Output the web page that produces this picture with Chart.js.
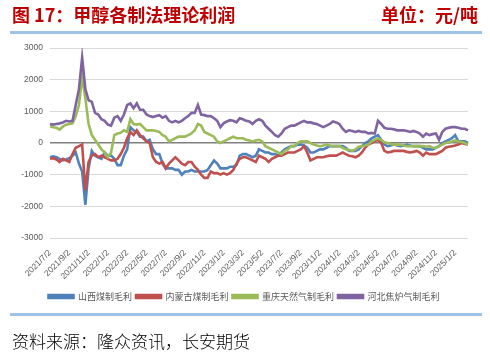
<!DOCTYPE html>
<html>
<head>
<meta charset="utf-8">
<script src="https://cdn.jsdelivr.net/npm/chart.js@4.4.1/dist/chart.umd.min.js"></script>
<style>
  html, body { margin: 0; padding: 0; background: #fff; }
  body { width: 490px; height: 357px; position: relative; overflow: hidden; font-family: "Noto Sans CJK SC", sans-serif; }
  #c { position: absolute; left: 0; top: 0; }
  .title { position: absolute; top: 4px; font-size: 18px; line-height: 20px; font-weight: bold; color: #C00000; white-space: pre; }
  .rule { position: absolute; left: 10px; width: 472px; height: 3px; background: #9DC3E6; }
  .src { position: absolute; left: 12px; top: 331px; font-size: 17px; line-height: 20px; color: #000; font-weight: 300; white-space: pre; }
</style>
</head>
<body>
<canvas id="c" width="490" height="357"></canvas>
<div class="title" style="left:12px;">图 17：甲醇各制法理论利润</div>
<div class="title" style="right:12px;">单位：元/吨</div>
<div class="rule" style="top:31px;"></div>
<div class="rule" style="top:313px;"></div>
<div class="src">资料来源：隆众资讯，长安期货</div>
<script>
const dates = [
  "2021/7/2","2021/7/12","2021/7/22","2021/8/2","2021/8/12","2021/8/22","2021/9/2","2021/9/12","2021/9/22",
  "2021/10/2","2021/10/12","2021/10/22","2021/11/2","2021/11/12","2021/11/22","2021/12/2","2021/12/12","2021/12/22",
  "2022/1/2","2022/1/12","2022/1/22","2022/2/2","2022/2/12","2022/2/22","2022/3/2","2022/3/12","2022/3/22",
  "2022/4/2","2022/4/12","2022/4/22","2022/5/2","2022/5/12","2022/5/22","2022/6/2","2022/6/12","2022/6/22",
  "2022/7/2","2022/7/12","2022/7/22","2022/8/2","2022/8/12","2022/8/22","2022/9/2","2022/9/12","2022/9/22",
  "2022/10/2","2022/10/12","2022/10/22","2022/11/2","2022/11/12","2022/11/22","2022/12/2","2022/12/12","2022/12/22",
  "2023/1/2","2023/1/12","2023/1/22","2023/2/2","2023/2/12","2023/2/22","2023/3/2","2023/3/12","2023/3/22",
  "2023/4/2","2023/4/12","2023/4/22","2023/5/2","2023/5/12","2023/5/22","2023/6/2","2023/6/12","2023/6/22",
  "2023/7/2","2023/7/12","2023/7/22","2023/8/2","2023/8/12","2023/8/22","2023/9/2","2023/9/12","2023/9/22",
  "2023/10/2","2023/10/12","2023/10/22","2023/11/2","2023/11/12","2023/11/22","2023/12/2","2023/12/12","2023/12/22",
  "2024/1/2","2024/1/12","2024/1/22","2024/2/2","2024/2/12","2024/2/22","2024/3/2","2024/3/12","2024/3/22",
  "2024/4/2","2024/4/12","2024/4/22","2024/5/2","2024/5/12","2024/5/22","2024/6/2","2024/6/12","2024/6/22",
  "2024/7/2","2024/7/12","2024/7/22","2024/8/2","2024/8/12","2024/8/22","2024/9/2","2024/9/12","2024/9/22",
  "2024/10/2","2024/10/12","2024/10/22","2024/11/2","2024/11/12","2024/11/22","2024/12/2","2024/12/12","2024/12/22",
  "2025/1/2","2025/1/12","2025/1/22","2025/2/2","2025/2/12"
];

const tickLabels = [
  "2021/7/2","2021/9/2","2021/11/2","2022/1/2","2022/3/2","2022/5/2","2022/7/2","2022/9/2","2022/11/2",
  "2023/1/2","2023/3/2","2023/5/2","2023/7/2","2023/9/2","2023/11/2","2024/1/2","2024/3/2","2024/5/2",
  "2024/7/2","2024/9/2","2024/11/2","2025/1/2"
];

const seriesNames = ["山西煤制毛利", "内蒙古煤制毛利", "重庆天然气制毛利", "河北焦炉气制毛利"];

const shanxi = [
  -450,-420,-450,-500,-550,-520,-480,-400,-300,-650,
  -900,-1950,-800,-250,-400,-450,-500,-300,-400,-400,
  -500,-700,-700,-400,-200,500,400,350,200,200,
  50,100,-200,-350,-350,-650,-800,-800,-800,-850,
  -850,-1000,-900,-900,-850,-900,-900,-900,-900,-850,
  -700,-550,-650,-800,-800,-800,-750,-750,-700,-400,
  -350,-350,-400,-450,-400,-200,-250,-300,-300,-350,
  -350,-400,-300,-200,-150,-100,-100,-50,-50,-80,
  -150,-300,-300,-250,-200,-200,-150,-100,-100,-100,
  -100,-100,-150,-250,-250,-250,-200,-100,0,50,
  150,200,250,100,-50,-100,-80,-50,-80,-100,
  -80,-50,-80,-100,-100,-100,-150,-200,-200,-200,
  -150,-100,0,50,100,150,250,50,50,50,
  0
];

const neimenggu = [
  -500,-480,-520,-600,-500,-550,-600,-350,-150,-100,
  -50,-1500,-600,-400,-350,-450,-400,-450,-500,-550,
  -550,-500,-350,-150,150,350,250,400,250,150,
  50,0,-450,-600,-650,-600,-800,-650,-550,-450,
  -550,-650,-700,-600,-600,-750,-850,-1000,-1100,-1100,
  -900,-950,-950,-1000,-950,-1000,-950,-850,-650,-500,
  -450,-450,-500,-550,-600,-400,-450,-500,-600,-500,
  -450,-400,-400,-350,-300,-300,-300,-250,-200,-100,
  -300,-550,-500,-450,-450,-450,-420,-400,-400,-400,
  -350,-300,-350,-400,-420,-450,-400,-300,-150,-50,
  0,50,100,0,-250,-300,-280,-250,-250,-250,
  -250,-280,-300,-280,-250,-300,-400,-300,-350,-350,
  -350,-300,-250,-150,-120,-100,-80,-50,0,-30,
  -50
];

const chongqing = [
  530,500,480,420,520,580,600,620,850,1200,
  2100,1400,600,250,100,-50,-200,-300,-450,-300,
  250,300,320,400,350,750,600,580,600,500,
  400,400,400,380,350,250,200,50,100,150,
  200,200,200,250,300,400,600,550,350,300,
  250,200,50,0,50,100,150,200,150,150,
  150,100,80,50,80,100,50,-100,-150,-200,
  -250,-300,-350,-250,-200,-100,-100,0,50,50,
  50,0,-50,-80,-100,-80,-50,-80,-100,-100,
  -100,-150,-200,-220,-250,-200,-120,-100,-80,-50,
  50,100,150,100,20,0,-30,-50,-50,-50,
  -80,-100,-100,-100,-100,-100,-100,-120,-100,-150,
  -150,-100,-50,0,20,50,80,50,30,0,
  -50
];

const hebei = [
  600,580,600,620,650,700,680,700,1200,1700,
  2700,1700,1350,1300,950,900,750,700,580,550,
  800,850,700,900,1200,1250,1100,1250,1050,1050,
  900,850,820,850,880,800,850,700,650,700,
  650,700,780,850,950,950,1200,900,880,850,
  850,780,700,500,620,680,720,700,650,780,
  750,700,680,600,700,750,700,550,450,350,
  250,200,300,450,500,550,550,600,650,700,
  650,650,620,600,550,500,550,600,680,650,
  600,450,350,400,380,350,380,350,350,300,
  320,300,700,600,480,450,450,430,400,400,
  400,380,350,380,350,300,200,300,250,280,
  300,100,350,450,480,500,500,480,450,450,
  400
];

const yTicks = [-3000, -2000, -1000, 0, 1000, 2000, 3000];

const colors = ["#4F81BD", "#C0504D", "#9BBB59", "#8064A2"];
const values = [shanxi, neimenggu, chongqing, hebei];

Chart.defaults.font.family = '"Liberation Sans", Arial, "Noto Sans CJK SC", sans-serif';

new Chart(document.getElementById('c'), {
  type: 'line',
  data: {
    labels: dates,
    datasets: seriesNames.map((n, i) => ({
      label: n,
      data: values[i],
      borderColor: colors[i],
      backgroundColor: colors[i],
      borderWidth: 2.6,
      pointRadius: 0,
      tension: 0,
      order: 4 - i
    }))
  },
  options: {
    responsive: false,
    animation: false,
    layout: { padding: { left: 20, right: 22, top: 48, bottom: 46 } },
    scales: {
      x: {
        grid: { display: false },
        border: { display: false },
        afterBuildTicks(s) { s.ticks = s.ticks.filter(t => tickLabels.includes(dates[t.value])); },
        ticks: {
          autoSkip: false, minRotation: 45, maxRotation: 45,
          color: '#595959', font: { size: 8.5 }, padding: 2,
          callback(v) { return dates[v]; }
        },
        afterFit(s) { s.height = 50; }
      },
      y: {
        min: -3000, max: 3000,
        afterBuildTicks(s) { s.ticks = yTicks.map(v => ({ value: v })); },
        ticks: { color: '#595959', font: { size: 8.5 }, padding: 7, callback(v) { return String(v); } },
        grid: {
          drawTicks: false,
          color: c => c.tick && c.tick.value === 0 ? '#808080' : '#D9D9D9',
          lineWidth: c => c.tick && c.tick.value === 0 ? 1.6 : 1
        },
        border: { display: false },
        afterFit(s) { s.width = 30; }
      }
    },
    plugins: {
      tooltip: { enabled: false },
      legend: {
        position: 'bottom',
        labels: {
          boxWidth: 25, boxHeight: 3, padding: 4,
          color: '#595959',
          font: { size: 9, family: '"Noto Sans CJK SC", sans-serif' },
          sort: (a, b) => a.datasetIndex - b.datasetIndex
        }
      }
    }
  }
});
</script>
</body>
</html>
